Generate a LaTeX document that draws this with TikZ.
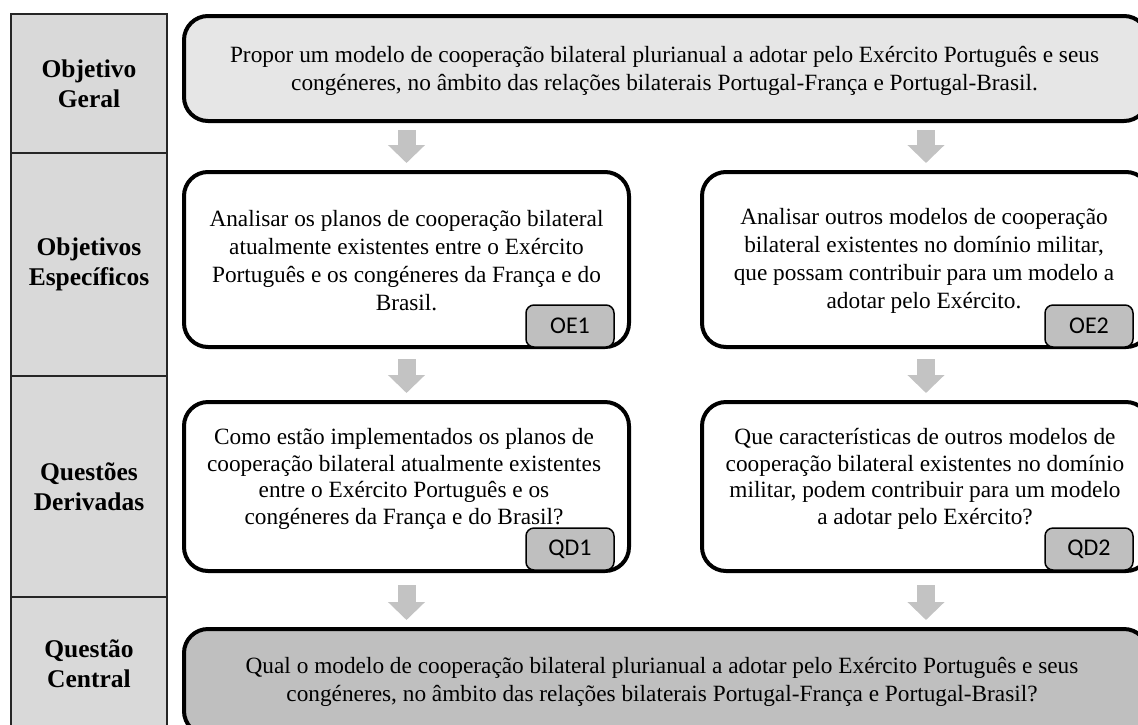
\documentclass[tikz,border=0pt]{standalone}
\usepackage{fontspec}
\setmainfont{Liberation Serif}
\newfontfamily\tagfont{Carlito}
\usetikzlibrary{arrows.meta}
\definecolor{cellgray}{HTML}{D9D9D9}
\definecolor{lightbox}{HTML}{E6E6E6}
\definecolor{midgray}{HTML}{BFBFBF}
\definecolor{arrowgray}{HTML}{C3C3C3}
\definecolor{edgegray}{HTML}{262626}
\tikzset{
 cell/.style={draw=edgegray, line width=1.3pt, fill=cellgray, minimum width=156pt, inner sep=0pt, align=center, font=\fontsize{25.5}{30}\selectfont\bfseries},
 box/.style={draw=black, line width=4pt, rounded corners=24pt, inner sep=0pt},
 txt/.style={inner sep=0pt, align=center, font=\fontsize{23.3}{28}\selectfont},
 txtq/.style={inner sep=0pt, align=center, font=\fontsize{23.3}{26.5}\selectfont},
 tagbox/.style={draw=black, line width=1.5pt, fill=midgray, rounded corners=8pt, minimum width=88pt, minimum height=42pt, inner sep=0pt, font=\tagfont\fontsize{24}{27}\selectfont},
 blk/.style={draw=arrowgray, line width=18pt, -{Triangle[width=36pt,length=18pt]}}
}
\begin{document}
\begin{tikzpicture}[x=1pt,y=-1pt]
\useasboundingbox (0,0) rectangle (1138,724);
\clip (0,0) rectangle (1138,724);
\fill[white] (0,0) rectangle (1138,724);
% left column
\node[cell, minimum height=139pt] (c1) at (89,83.5) {Objetivo\\Geral};
\node[cell, minimum height=223pt] (c2) at (89,264.5) {Objetivos\\Específicos};
\node[cell, minimum height=221pt] (c3) at (89,486.5) {Questões\\Derivadas};
\node[cell, minimum height=133pt] (c4) at (89,663.5) {Questão\\Central};
% boxes
\node[box, fill=lightbox, minimum width=964pt, minimum height=105pt] (og) at (666,68.5) {};
\node[box, fill=white, minimum width=445pt, minimum height=175pt] (oe1) at (406.5,259.5) {};
\node[box, fill=white, minimum width=448pt, minimum height=175pt] (oe2) at (926,259.5) {};
\node[box, fill=white, minimum width=445pt, minimum height=169pt] (qd1) at (406.5,486.5) {};
\node[box, fill=white, minimum width=448pt, minimum height=169pt] (qd2) at (926,486.5) {};
\node[box, fill=midgray, minimum width=964pt, minimum height=106pt] (qc) at (666,682) {};
% texts
\node[txt] (ogt) at (664.5,71) {Propor um modelo de cooperação bilateral plurianual a adotar pelo Exército Português e seus\\congéneres, no âmbito das relações bilaterais Portugal-França e Portugal-Brasil.};
\node[txt] (oe1t) at (406.5,261) {Analisar os planos de cooperação bilateral\\atualmente existentes entre o Exército\\Português e os congéneres da França e do\\Brasil.};
\node[txt] (oe2t) at (924,261) {Analisar outros modelos de cooperação\\bilateral existentes no domínio militar,\\que possam contribuir para um modelo a\\adotar pelo Exército.};
\node[txtq] (qd1t) at (404,479) {Como estão implementados os planos de\\cooperação bilateral atualmente existentes\\entre o Exército Português e os\\congéneres da França e do Brasil?};
\node[txtq] (qd2t) at (925,479) {Que características de outros modelos de\\cooperação bilateral existentes no domínio\\militar, podem contribuir para um modelo\\a adotar pelo Exército?};
\node[txt] (qct) at (662,681.5) {Qual o modelo de cooperação bilateral plurianual a adotar pelo Exército Português e seus\\congéneres, no âmbito das relações bilaterais Portugal-França e Portugal-Brasil?};
% tags
\node[tagbox] (t1) at (570,326) {OE1};
\node[tagbox] (t2) at (1089,326) {OE2};
\node[tagbox] (t3) at (570,549) {QD1};
\node[tagbox] (t4) at (1089,549) {QD2};
% arrows
\draw[blk, shorten <=7pt, shorten >=7pt] (og.south -| oe1.north) -- (oe1.north);
\draw[blk, shorten <=7pt, shorten >=7pt] (og.south -| oe2.north) -- (oe2.north);
\draw[blk, shorten <=10pt, shorten >=7pt] (oe1.south) -- (qd1.north);
\draw[blk, shorten <=10pt, shorten >=7pt] (oe2.south) -- (qd2.north);
\draw[blk, shorten <=12pt, shorten >=7pt] (qd1.south) -- (qc.north -| qd1.south);
\draw[blk, shorten <=12pt, shorten >=7pt] (qd2.south) -- (qc.north -| qd2.south);
\end{tikzpicture}
\end{document}
